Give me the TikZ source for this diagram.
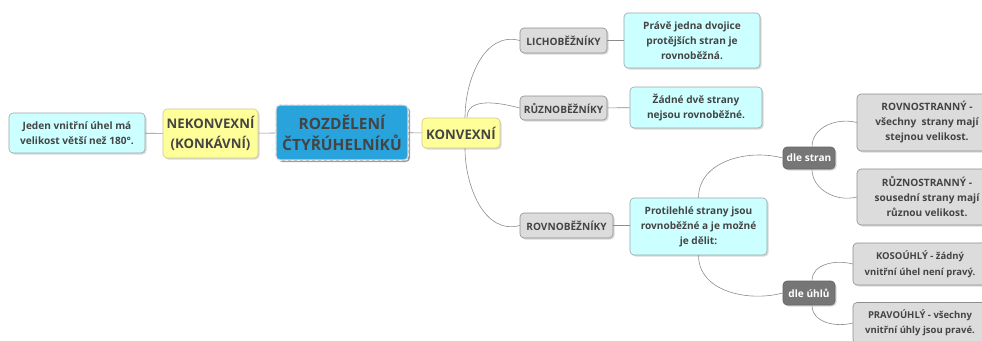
\documentclass[tikz,border=0pt]{standalone}
\usepackage{fontspec}
\setmainfont{Open Sans}
\usetikzlibrary{positioning, shadows, calc}
\definecolor{inktext}{HTML}{444444}
\definecolor{linkgray}{HTML}{8C8C8C}
\definecolor{notefill}{HTML}{CCFFFF}
\definecolor{notedraw}{HTML}{9AA5A5}
\definecolor{kindfill}{HTML}{DCDCDC}
\definecolor{kinddraw}{HTML}{8E8E8E}
\definecolor{yelfill}{HTML}{FFFF99}
\definecolor{yeldraw}{HTML}{CFC98A}
\definecolor{rootfill}{HTML}{29A3DC}
\definecolor{critfill}{HTML}{767676}
\tikzset{
  % --- common box look ---
  mmbox/.style={draw, rounded corners=4pt, align=center, inner sep=2pt,
    text=inktext, font=\fontsize{10.1}{15}\selectfont\bfseries, line width=0.6pt,
    drop shadow={opacity=0.3, shadow xshift=1.5pt, shadow yshift=-1.5pt}},
  rootbox/.style={mmbox, fill=rootfill, draw=black!15, line width=1.2pt,
    font=\fontsize{15.5}{21}\selectfont\bfseries,
    drop shadow={opacity=0.7, shadow xshift=2pt, shadow yshift=-2pt}},
  sidebox/.style={mmbox, fill=yelfill, draw=yeldraw,
    font=\fontsize{13.2}{20}\selectfont\bfseries},
  kindbox/.style={mmbox, fill=kindfill, draw=kinddraw},
  notebox/.style={mmbox, fill=notefill, draw=notedraw},
  critbox/.style={mmbox, fill=critfill, draw=critfill!85!black, text=white},
  % --- connectors ---
  mmlink/.style={draw=linkgray, line width=0.6pt},
}
\begin{document}
\begin{tikzpicture}[x=1pt, y=-1pt]
    \useasboundingbox (0,0) rectangle (982,340);
    \clip (0,0) rectangle (982,340);
    % left branch
    \node[notebox, minimum width=136, minimum height=40] (obtuse) at (77,133)
      {Jeden vnitřní úhel má\\velikost větší než 180°.};
    \node[sidebox, minimum width=95, minimum height=49] (nonconv) at (210.5,133.5)
      {NEKONVEXNÍ\\(KONKÁVNÍ)};
    % root
    \node[rootbox, minimum width=132, minimum height=55] (root) at (342,132.5)
      {ROZDĚLENÍ\\ČTYŘÚHELNÍKŮ};
    \draw[white, dashed, line width=0.6pt, rounded corners=4pt]
      (root.north west) rectangle (root.south east);
    % right branch
    \node[sidebox, minimum width=78, minimum height=30] (conv) at (461,133) {KONVEXNÍ};
    \node[kindbox, minimum width=87, minimum height=25] (trap) at (563.5,40.5) {LICHOBĚŽNÍKY};
    \node[kindbox, minimum width=87, minimum height=24] (trapez) at (563.5,108) {RŮZNOBĚŽNÍKY};
    \node[kindbox, minimum width=93, minimum height=25] (para) at (566.5,225.5) {ROVNOBĚŽNÍKY};
    \node[notebox, minimum width=136, minimum height=55] (trapnote) at (692,40.5)
      {Právě jedna dvojice\\protějších stran je\\rovnoběžná.};
    \node[notebox, minimum width=132, minimum height=41] (trapeznote) at (696,107.5)
      {Žádné dvě strany\\nejsou rovnoběžné.};
    \node[notebox, minimum width=137, minimum height=57] (paranote) at (698.5,226.5)
      {Protilehlé strany jsou\\rovnoběžné a je možné\\je dělit:};
    % division criteria
    \node[critbox, minimum width=52, minimum height=22] (bysides) at (809,158) {dle stran};
    \node[critbox, minimum width=52, minimum height=24] (byangles) at (809,293) {dle úhlů};
    \node[kindbox, minimum width=140, minimum height=57] (rhombus) at (927,122.5)
      {ROVNOSTRANNÝ -\\všechny\ \ strany mají\\stejnou velikost.};
    \node[kindbox, minimum width=140, minimum height=56] (rhomboid) at (927,197)
      {RŮZNOSTRANNÝ -\\sousední strany mají\\různou velikost.};
    \node[kindbox, font=\fontsize{9.5}{16}\selectfont\bfseries,
      minimum width=134, minimum height=42] (oblique) at (920,264)
      {KOSOÚHLÝ - žádný\\vnitřní úhel není pravý.};
    \node[kindbox, font=\fontsize{9.5}{15}\selectfont\bfseries,
      minimum width=134, minimum height=41] (rightang) at (920,323)
      {PRAVOÚHLÝ - všechny\\vnitřní úhly jsou pravé.};
    % straight links
    \draw[mmlink] (obtuse) -- (nonconv);
    \draw[mmlink] (nonconv) -- (root);
    \draw[mmlink] (root) -- (conv);
    \draw[mmlink] (trap) -- (trapnote);
    \draw[mmlink] (trapez) -- (trapeznote);
    \draw[mmlink] (para.east) -- (paranote.west |- para.east);
    % curved links
    \draw[mmlink] ($(conv.north)+(4,0)$) to[out=90, in=165] (trap.west);
    \draw[mmlink] ($(conv.north)+(6,0)$) to[out=90, in=165] (trapez.west);
    \draw[mmlink] ($(conv.south)+(4,0)$) to[out=-90, in=195] (para.west);
    \draw[mmlink] (paranote.north) to[out=90, in=165] (bysides.west);
    \draw[mmlink] (paranote.south) to[out=-90, in=195] (byangles.west);
    \draw[mmlink] ($(bysides.north)+(3,0)$) to[out=90, in=165] (rhombus.west);
    \draw[mmlink] ($(bysides.south)+(3,0)$) to[out=-90, in=195] (rhomboid.west);
    \draw[mmlink] ($(byangles.north)+(3,0)$) to[out=90, in=165] (oblique.west);
    \draw[mmlink] ($(byangles.south)+(3,0)$) to[out=-90, in=195] (rightang.west);
\end{tikzpicture}
\end{document}
